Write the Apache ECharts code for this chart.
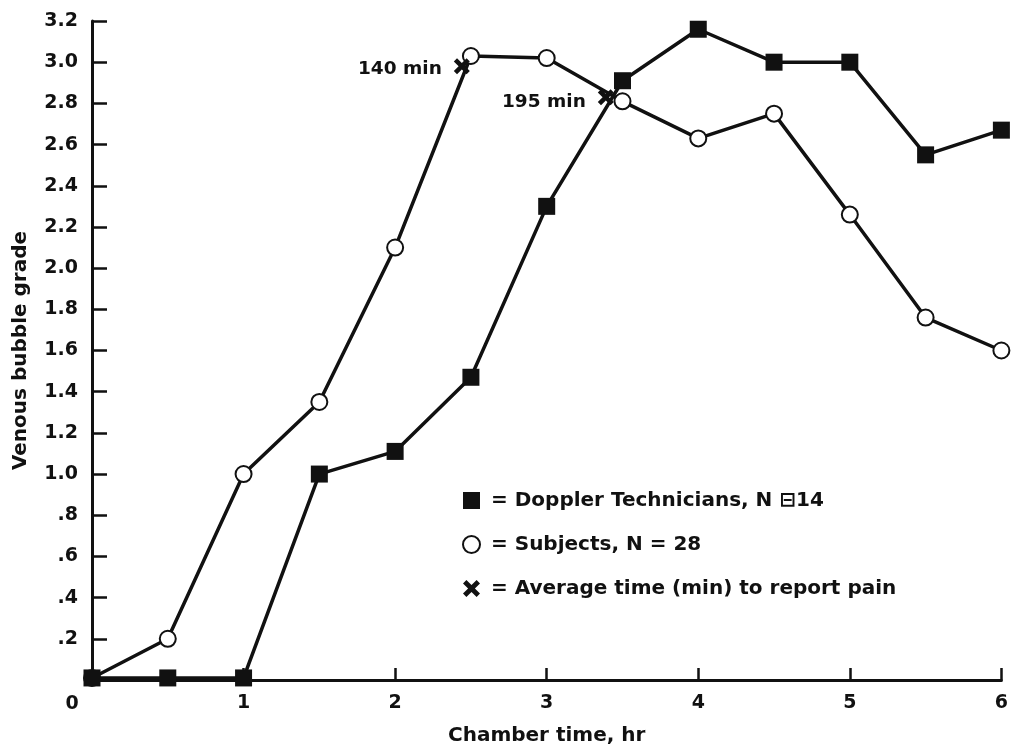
<!DOCTYPE html>
<html lang="en">
<head>
    <meta charset="UTF-8">
    <title>Venous bubble grade</title>
    <script src="https://cdn.jsdelivr.net/npm/echarts@6/dist/echarts.min.js"></script>
    <style>
        html, body { margin: 0; padding: 0; background: #fff; }
    </style>
</head>
<body>
    <div id="main" style="width: 1011px;height:753px;"></div>
    <script type="text/javascript">
        // data
        var hours = [0, 0.5, 1, 1.5, 2, 2.5, 3, 3.5, 4, 4.5, 5, 5.5, 6];
        var dopplerGrade = [0.01, 0.01, 0.01, 1.0, 1.11, 1.47, 2.30, 2.91, 3.16, 3.0, 3.0, 2.55, 2.67];
        var subjectGrade = [0.01, 0.2, 1.0, 1.35, 2.10, 3.03, 3.02, 2.81, 2.63, 2.75, 2.26, 1.76, 1.60];
        var painHours = [2.44, 3.39];
        var painGrade = [2.98, 2.83];
        var painLabels = ['140 min', '195 min'];
        var legendLabels = ['= Doppler Technicians, N \u229f14', '= Subjects, N = 28', '= Average time (min) to report pain'];

        var ink = '#111';
        var font = 'DejaVu Sans';
        var xMark = 'path://M0,2 L2,0 L5,3 L8,0 L10,2 L7,5 L10,8 L8,10 L5,7 L2,10 L0,8 L3,5 Z';

        function pairs(xs, ys) {
            var out = [];
            for (var i = 0; i < xs.length; i++) out.push([xs[i], ys[i]]);
            return out;
        }

        var myChart = echarts.init(document.getElementById('main'));

        var option = {
            animation: false,
            backgroundColor: '#fff',
            grid: { left: 92, right: 8, top: 21, bottom: 73 },
            legend: {
                orient: 'vertical',
                left: 457,
                top: 485,
                itemWidth: 17,
                itemHeight: 17,
                itemGap: 23,
                selectedMode: false,
                textStyle: { fontFamily: font, fontWeight: 'bold', fontSize: 20, lineHeight: 21, color: ink, padding: [0, 0, 0, 6] },
                formatter: function (name) {
                    return { Doppler: legendLabels[0], Subjects: legendLabels[1], Pain: legendLabels[2] }[name];
                },
                data: [
                    { name: 'Doppler', icon: 'rect', itemStyle: { color: ink, borderWidth: 0 } },
                    { name: 'Subjects', icon: 'circle', itemStyle: { color: '#fff', borderColor: ink, borderWidth: 2 } },
                    { name: 'Pain', icon: xMark, itemStyle: { color: ink, borderWidth: 0, opacity: 1 } }
                ]
            },
            xAxis: {
                type: 'value',
                min: 0,
                max: 6,
                interval: 1,
                name: 'Chamber time, hr',
                nameLocation: 'middle',
                nameGap: 46,
                nameTextStyle: { fontFamily: font, fontWeight: 'bold', fontSize: 20, color: ink },
                axisLine: { lineStyle: { color: ink, width: 3 } },
                axisTick: { inside: true, length: 12, lineStyle: { color: ink, width: 2.5 } },
                axisLabel: {
                    margin: 14,
                    fontFamily: font, fontWeight: 'bold', fontSize: 19, color: ink,
                    formatter: function (v) { return v === 0 ? '' : String(v); }
                },
                splitLine: { show: false }
            },
            yAxis: {
                type: 'value',
                min: 0,
                max: 3.2,
                interval: 0.2,
                name: 'Venous bubble grade',
                nameLocation: 'middle',
                nameGap: 61,
                nameTextStyle: { fontFamily: font, fontWeight: 'bold', fontSize: 20, color: ink },
                axisLine: { show: true, lineStyle: { color: ink, width: 3 } },
                axisTick: { show: true, inside: true, length: 15, lineStyle: { color: ink, width: 2.5 } },
                axisLabel: {
                    margin: 14,
                    fontFamily: font, fontWeight: 'bold', fontSize: 19, color: ink,
                    formatter: function (v) {
                        if (v < 0.01) return '';
                        var s = v.toFixed(1);
                        return v < 1 ? s.slice(1) : s;
                    }
                },
                splitLine: { show: false }
            },
            graphic: [
                {
                    type: 'text', x: 72, y: 704,
                    style: { text: '0', font: 'bold 19px "DejaVu Sans"', fill: ink, align: 'center', verticalAlign: 'middle' }
                }
            ],
            series: [
                {
                    name: 'Subjects',
                    type: 'line',
                    data: pairs(hours, subjectGrade),
                    symbol: 'circle',
                    symbolSize: 16,
                    lineStyle: { color: ink, width: 3.5 },
                    itemStyle: { color: '#fff', borderColor: ink, borderWidth: 2 },
                    z: 3
                },
                {
                    name: 'Doppler',
                    type: 'line',
                    data: pairs(hours, dopplerGrade),
                    symbol: 'rect',
                    symbolSize: 17,
                    lineStyle: { color: ink, width: 3.5 },
                    itemStyle: { color: ink },
                    z: 4
                },
                {
                    name: 'Pain',
                    type: 'scatter',
                    data: pairs(painHours, painGrade).map(function (p, i) {
                        return {
                            value: p,
                            label: { formatter: painLabels[i], offset: i === 0 ? [0, 3] : [0, 5] }
                        };
                    }),
                    symbol: xMark,
                    symbolSize: 16,
                    itemStyle: { color: ink, opacity: 1 },
                    label: {
                        show: true,
                        position: 'left',
                        distance: 12,
                        fontFamily: font, fontWeight: 'bold', fontSize: 18.5, color: ink
                    },
                    z: 5
                }
            ]
        };

        myChart.setOption(option);
    </script>
</body>
</html>
